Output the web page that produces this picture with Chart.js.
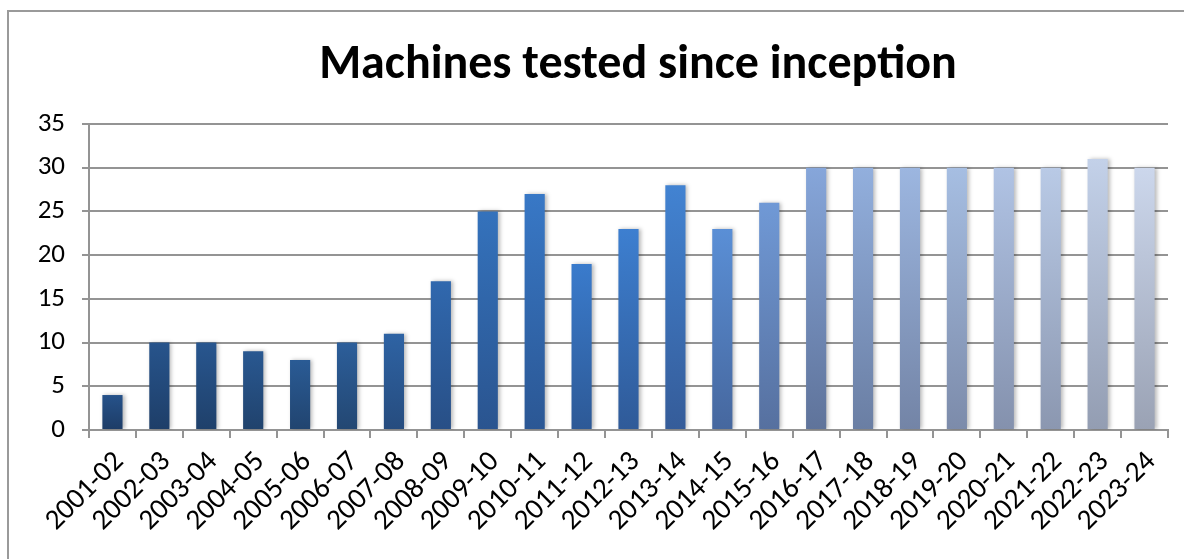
<!DOCTYPE html>
<html>
<head>
<meta charset="utf-8">
<script src="https://cdn.jsdelivr.net/npm/chart.js@4/dist/chart.umd.min.js"></script>
<style>
html,body{margin:0;padding:0;background:#fff;overflow:hidden;}
#wrap{position:absolute;left:0;top:0;width:1184px;height:559px;}
#frame{position:absolute;left:7px;top:10px;width:2000px;height:2000px;border:2px solid #9a9a9a;box-sizing:border-box;}
canvas{position:absolute;left:0;top:0;}
</style>
</head>
<body>
<div id="wrap">
<div id="frame"></div>
<canvas id="c" width="1184" height="559"></canvas>
</div>
<script>
const titleText = "Machines tested since inception";
const categories = ["2001-02","2002-03","2003-04","2004-05","2005-06","2006-07","2007-08","2008-09","2009-10","2010-11","2011-12","2012-13","2013-14","2014-15","2015-16","2016-17","2017-18","2018-19","2019-20","2020-21","2021-22","2022-23","2023-24"];
const machinesTested = [4,10,10,9,8,10,11,17,25,27,19,23,28,23,26,30,30,30,30,30,30,31,30];
const yTicks = [0,5,10,15,20,25,30,35];

const topColors = ["#26528a","#27548c","#28568f","#295891","#2a5b95","#2c5e9a","#2e63a4","#3068ae","#3472bc","#3878c6","#3a7bcc","#3d7fd0","#4283d2","#5a8fd6","#7099d6","#86a6da","#92afdd","#9cb6e0","#a6bee2","#b0c3e4","#b9cae6","#c3d1e9","#ccd7ec"];
const bottomColors = ["#1d3c66","#1e3e68","#1f406a","#20426c","#21446f","#234772","#264c7e","#284f86","#2a548f","#2b5794","#2d5996","#2f5a98","#355c99","#46679e","#56709f","#5f739a","#6a7ea3","#7384a6","#7c8baa","#8491ad","#8b97b0","#939db2","#9aa2b4"];

const FONT = "Carlito, Lato, 'Liberation Sans', sans-serif";

const shadowPlugin = {
  id: 'barShadow',
  beforeDatasetDraw(chart){
    const c = chart.ctx; c.save();
    c.shadowColor = 'rgba(0,0,0,0.28)'; c.shadowBlur = 4; c.shadowOffsetX = 2; c.shadowOffsetY = 0;
  },
  afterDatasetDraw(chart){ chart.ctx.restore(); }
};

const titlePlugin = {
  id: 'excelTitle',
  afterDraw(chart){
    const c = chart.ctx; c.save();
    c.font = "bold 48px " + FONT;
    c.fillStyle = '#000';
    c.textAlign = 'center';
    c.textBaseline = 'alphabetic';
    c.fillText(titleText, 638, 78);
    c.restore();
  }
};

new Chart(document.getElementById('c'), {
  type: 'bar',
  data: {
    labels: categories,
    datasets: [{
      data: machinesTested,
      borderWidth: 0,
      categoryPercentage: 1.0,
      barPercentage: 0.43,
      backgroundColor: function(ctx){
        const i = ctx.dataIndex;
        const chart = ctx.chart;
        if (!chart.chartArea || ctx.parsed === undefined) return topColors[i];
        const ys = chart.scales.y;
        const top = ys.getPixelForValue(ctx.parsed.y);
        const bot = ys.getPixelForValue(0);
        const g = chart.ctx.createLinearGradient(0, top, 0, bot);
        g.addColorStop(0, topColors[i]);
        g.addColorStop(1, bottomColors[i]);
        return g;
      }
    }]
  },
  options: {
    responsive: false,
    animation: false,
    devicePixelRatio: 1,
    layout: { padding: { left: 0, right: 16, top: 124, bottom: 0 } },
    plugins: {
      legend: { display: false },
      tooltip: { enabled: false },
      title: { display: false }
    },
    scales: {
      x: {
        grid: { offset: true, drawOnChartArea: false, drawTicks: true, tickLength: 8, color: '#949494', lineWidth: 2 },
        border: { display: true, color: '#949494', width: 2 },
        ticks: { color: '#000', font: { family: FONT, size: 29 }, minRotation: 45, maxRotation: 45, autoSkip: false, padding: 7, labelOffset: 7 },
        afterFit(scale){ scale.height = 129; }
      },
      y: {
        min: 0, max: 35,
        afterBuildTicks(scale){ scale.ticks = yTicks.map(v => ({ value: v })); },
        grid: { color: '#949494', lineWidth: 2, drawTicks: true, tickLength: 7 },
        border: { display: true, color: '#949494', width: 2 },
        ticks: { color: '#000', font: { family: FONT, size: 27 }, padding: 17 },
        afterFit(scale){ scale.width = 89; }
      }
    }
  },
  plugins: [shadowPlugin, titlePlugin]
});
</script>
</body>
</html>
